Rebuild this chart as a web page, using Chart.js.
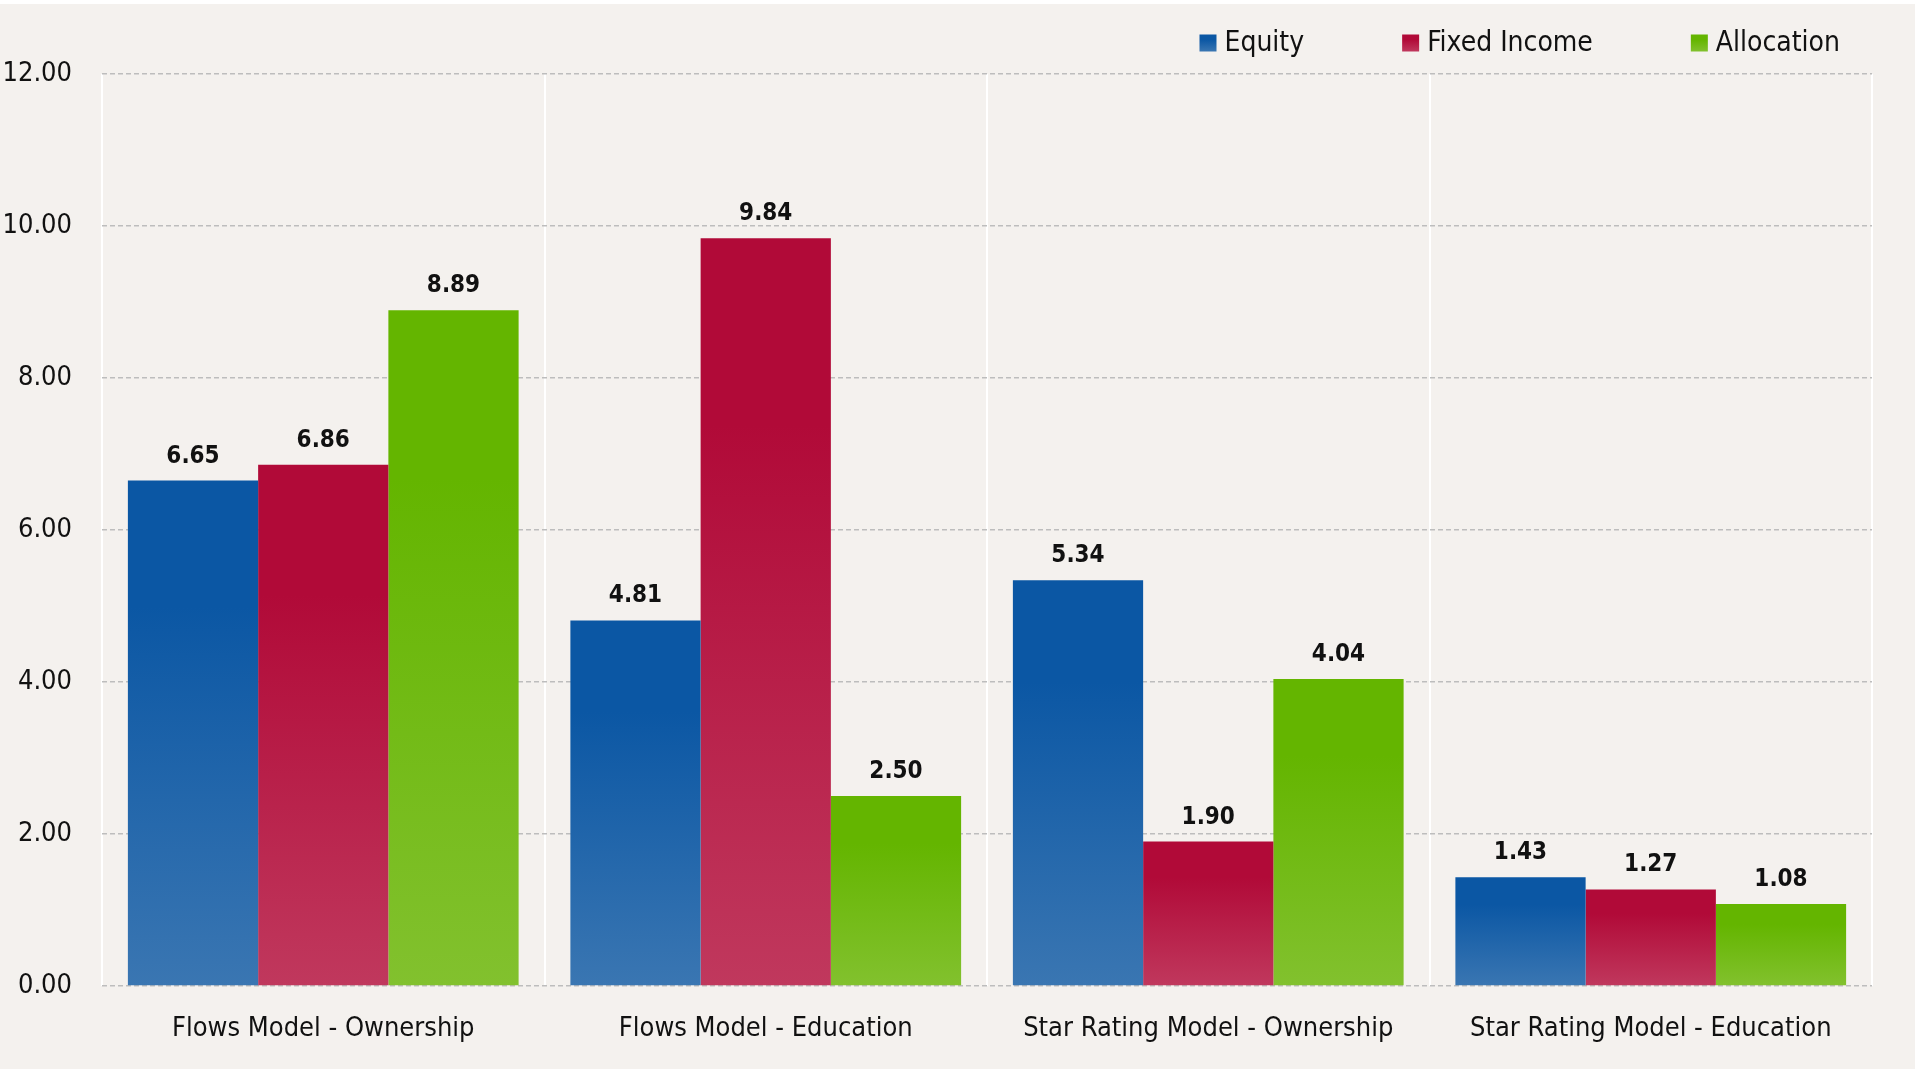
<!DOCTYPE html>
<html>
<head>
<meta charset="utf-8">
<script src="https://cdn.jsdelivr.net/npm/chart.js@4.4.1/dist/chart.umd.min.js"></script>
<style>
  html, body { margin: 0; padding: 0; background: #ffffff; }
  #wrap { position: absolute; left: 0; top: 4px; width: 1915px; height: 1065px; background: #f4f1ee; }
</style>
</head>
<body>
<div id="wrap"><canvas id="grafico" width="1915" height="1065"></canvas></div>
<script>
// datos
const categorias = ["Flows Model - Ownership", "Flows Model - Education", "Star Rating Model - Ownership", "Star Rating Model - Education"];
const equity = [6.65, 4.81, 5.34, 1.43];
const fixedIncome = [6.86, 9.84, 1.90, 1.27];
const allocation = [8.89, 2.50, 4.04, 1.08];
const ticksY = [0, 2, 4, 6, 8, 10, 12];

const FUENTE = '"Liberation Sans Narrow", "DejaVu Sans Condensed", sans-serif';

const colores = [
    ['#0b57a4', '#3a76b2'],
    ['#b10a38', '#c0385d'],
    ['#64b500', '#82c12e']
];

// degradado por barra: oscuro arriba, más claro abajo
function degradado(arriba, abajo) {
    return function(ctx) {
        const chart = ctx.chart;
        if (!chart.chartArea || ctx.type !== 'data') return arriba;
        const y = chart.scales.y;
        const top = y.getPixelForValue(ctx.raw);
        const base = y.getPixelForValue(0);
        if (!isFinite(top) || base - top < 1) return arriba;
        const g = chart.ctx.createLinearGradient(0, top, 0, base);
        g.addColorStop(0, arriba);
        g.addColorStop(0.25, arriba);
        g.addColorStop(1, abajo);
        return g;
    };
}

// etiquetas de valor encima de cada barra
const etiquetas = {
    id: 'etiquetas',
    afterDatasetsDraw(chart) {
        const c = chart.ctx;
        c.save();
        c.font = 'bold 24px ' + FUENTE;
        c.fillStyle = '#111111';
        c.textAlign = 'center';
        c.textBaseline = 'alphabetic';
        chart.data.datasets.forEach((ds, i) => {
            chart.getDatasetMeta(i).data.forEach((bar, j) => {
                c.fillText(ds.data[j].toFixed(2), bar.x, bar.y - 18);
            });
        });
        c.restore();
    }
};

// leyenda arriba a la derecha, cuadro + texto
const leyenda = {
    id: 'leyenda',
    afterDraw(chart) {
        const c = chart.ctx;
        c.save();
        c.font = '28px ' + FUENTE;
        c.textBaseline = 'middle';
        c.textAlign = 'left';
        const caja = 17, hueco = 8, sep = 98, yc = 39;
        const items = chart.data.datasets.map((ds, i) => ({ texto: ds.label, ancho: c.measureText(ds.label).width, col: colores[i] }));
        let total = items.reduce((a, it) => a + caja + hueco + it.ancho, 0) + sep * (items.length - 1);
        let x = 1840 - total;
        items.forEach(it => {
            const g = c.createLinearGradient(0, yc - caja / 2, 0, yc + caja / 2);
            g.addColorStop(0, it.col[0]);
            g.addColorStop(0.3, it.col[0]);
            g.addColorStop(1, it.col[1]);
            c.fillStyle = g;
            c.fillRect(x, yc - caja / 2, caja, caja);
            c.fillStyle = '#111111';
            c.fillText(it.texto, x + caja + hueco, yc + 1);
            x += caja + hueco + it.ancho + sep;
        });
        c.restore();
    }
};

function dibujar() {
    const ctx = document.getElementById('grafico').getContext('2d');
    new Chart(ctx, {
        type: 'bar',
        data: {
            labels: categorias,
            datasets: [
                { label: 'Equity', data: equity, backgroundColor: degradado(colores[0][0], colores[0][1]) },
                { label: 'Fixed Income', data: fixedIncome, backgroundColor: degradado(colores[1][0], colores[1][1]) },
                { label: 'Allocation', data: allocation, backgroundColor: degradado(colores[2][0], colores[2][1]) }
            ]
        },
        options: {
            responsive: false,
            animation: false,
            layout: { padding: { left: 0, right: 43, top: 70, bottom: 0 } },
            datasets: { bar: { barPercentage: 1, categoryPercentage: 0.883, borderWidth: 0 } },
            scales: {
                x: {
                    afterFit: (a) => { a.height = 83; },
                    grid: { color: '#ffffff', lineWidth: 2, drawTicks: false, offset: true },
                    border: { display: false },
                    ticks: { color: '#111111', font: { family: FUENTE, size: 27 }, padding: 27 }
                },
                y: {
                    min: 0, max: 12,
                    afterFit: (a) => { a.width = 102; },
                    afterBuildTicks: (axis) => { axis.ticks = ticksY.map(v => ({ value: v })); },
                    grid: { color: '#bdbdbd', lineWidth: 1.5, drawTicks: false },
                    border: { display: false, dash: [5, 3] },
                    ticks: {
                        color: '#111111', font: { family: FUENTE, size: 27 }, padding: 30,
                        callback: (v) => Number(v).toFixed(2)
                    }
                }
            },
            plugins: {
                legend: { display: false },
                tooltip: { enabled: false }
            }
        },
        plugins: [etiquetas, leyenda]
    });
}

if (document.fonts && document.fonts.load) {
    Promise.all([
        document.fonts.load('27px "DejaVu Sans Condensed"'),
        document.fonts.load('bold 24px "DejaVu Sans Condensed"')
    ]).then(dibujar, dibujar);
} else {
    dibujar();
}
</script>
</body>
</html>
